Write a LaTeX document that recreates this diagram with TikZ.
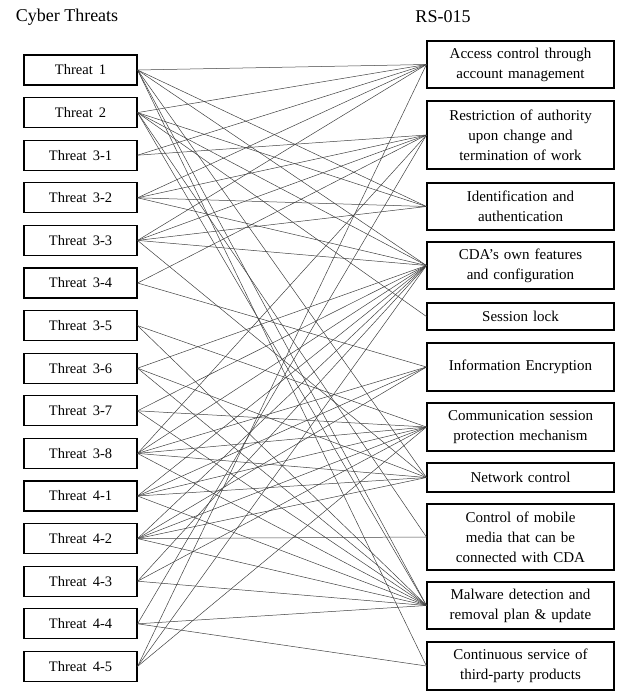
\documentclass[tikz,border=0pt]{standalone}
\usepackage{fontspec}
\setmainfont{Liberation Serif}
\usetikzlibrary{positioning}

\tikzset{
  threat/.style={draw, line width=1.1pt, minimum width=113pt, minimum height=30pt,
    inner sep=0pt, font=\fontsize{14.5}{16}\selectfont},
  req/.style={draw, line width=1.1pt, minimum width=187pt, inner sep=0pt,
    align=center, text width=185pt, font=\fontsize{15}{20}\selectfont},
  link/.style={black!75, line width=0.5pt},
  heading/.style={font=\fontsize{18}{20}\selectfont}
}

\begin{document}
\begin{tikzpicture}[x=1pt,y=-1pt]
  \useasboundingbox (0,0) rectangle (617,691);

  \node[heading] (hleft) at (67,17) {Cyber Threats};
  \node[heading] (hright) at (443,17) {RS-015};

  % threats on the left
  \foreach \name [count=\i] in {1,2,3-1,3-2,3-3,3-4,3-5,3-6,3-7,3-8,4-1,4-2,4-3,4-4,4-5} {
    \node[threat] (t\i) at (80.5,{70+42.6*(\i-1)}) {Threat\, \name};
  }

  % requirements on the right
  \node[req, minimum height=47pt] (r1) at (520.5,64.5) {Access control through\\account management};
  \node[req, minimum height=68pt] (r2) at (520.5,135) {Restriction of authority\\upon change and\\termination of work};
  \node[req, minimum height=47pt] (r3) at (520.5,206.5) {Identification and\\authentication};
  \node[req, minimum height=47pt] (r4) at (520.5,265.5) {CDA's own features\\and configuration};
  \node[req, minimum height=27pt] (r5) at (520.5,316.5) {Session lock};
  \node[req, minimum height=48pt] (r6) at (520.5,367) {Information Encryption};
  \node[req, minimum height=48pt] (r7) at (520.5,427) {Communication session\\protection mechanism};
  \node[req, minimum height=29pt] (r8) at (520.5,477.5) {Network control};
  \node[req, minimum height=66pt] (r9) at (520.5,537) {Control of mobile\\media that can be\\connected with CDA};
  \node[req, minimum height=47pt] (r10) at (520.5,605.5) {Malware detection and\\removal plan \& update};
  \node[req, minimum height=48pt] (r11) at (520.5,666) {Continuous service of\\third-party products};

  % mapping threat -> requirement
  \foreach \a/\b in {1/1,1/3,1/4,1/8,1/10,1/11,
                     2/1,2/3,2/4,2/5,2/9,2/10,
                     3/1,3/2,
                     4/1,4/2,4/3,4/4,
                     5/1,5/2,5/3,5/4,5/8,
                     6/2,6/6,
                     7/7,7/10,
                     8/4,8/8,8/10,
                     9/4,9/7,9/10,
                     10/2,10/4,10/6,10/7,10/8,10/10,
                     11/4,11/6,11/7,11/8,11/10,
                     12/4,12/6,12/7,12/8,12/9,12/10,
                     13/4,13/7,13/10,
                     14/2,14/10,14/11,
                     15/1,15/4,15/7} {
    \draw[link] (t\a.east) -- (r\b.west);
  }
\end{tikzpicture}
\end{document}
